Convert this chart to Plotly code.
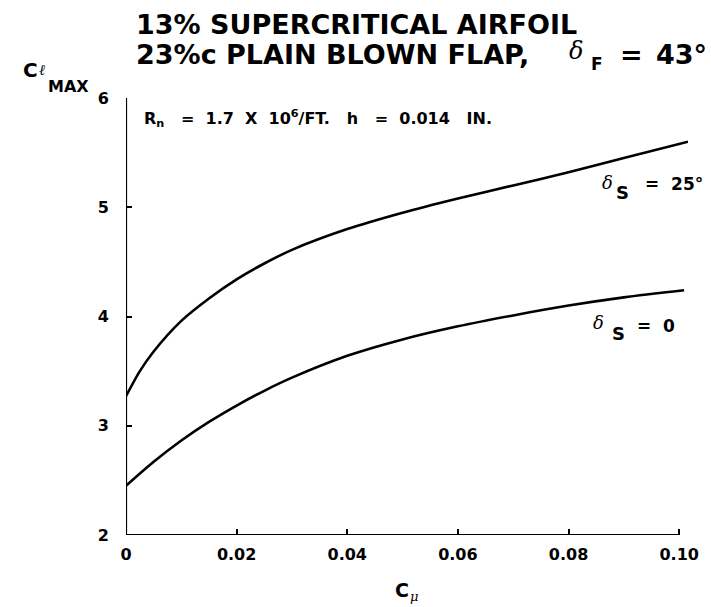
import plotly.graph_objects as go

# ---- data ----
cmu_25 = [0, 0.0025, 0.005, 0.010, 0.015, 0.020, 0.025, 0.030, 0.040, 0.050, 0.060, 0.070, 0.080, 0.090, 0.1016]
clmax_25 = [3.27, 3.50, 3.68, 3.96, 4.165, 4.34, 4.485, 4.61, 4.80, 4.95, 5.08, 5.20, 5.32, 5.45, 5.60]

cmu_0 = [0, 0.005, 0.010, 0.015, 0.020, 0.025, 0.030, 0.040, 0.050, 0.060, 0.070, 0.080, 0.090, 0.1009]
clmax_0 = [2.45, 2.67, 2.865, 3.035, 3.185, 3.32, 3.44, 3.64, 3.79, 3.91, 4.01, 4.10, 4.175, 4.24]

x_ticks = [0, 0.02, 0.04, 0.06, 0.08, 0.10]
x_tick_labels = ["0", "0.02", "0.04", "0.06", "0.08", "0.10"]
y_ticks = [2, 3, 4, 5, 6]
y_tick_labels = ["2", "3", "4", "5", "6"]

# ---- layout geometry (pixels) ----
W, H = 711, 607
L, R, T, B = 126, 690, 98, 535
FONT = "DejaVu Sans"
SERIF = "DejaVu Serif"
INK = "#000000"
S = "\u00a0"  # non-breaking space


def px(x):
    return (x - L) / (R - L)


def py(y):
    return (B - y) / (B - T)


fig = go.Figure()
for xs, ys in [(cmu_25, clmax_25), (cmu_0, clmax_0)]:
    fig.add_trace(go.Scatter(x=xs, y=ys, mode="lines",
                             line=dict(color=INK, width=2.6, shape="spline", smoothing=0.8),
                             showlegend=False, hoverinfo="skip"))

# axis lines (from tick extents)
fig.add_shape(type="line", xref="x", yref="y", x0=x_ticks[0], x1=x_ticks[-1], y0=y_ticks[0], y1=y_ticks[0],
              line=dict(color=INK, width=2.2))
fig.add_shape(type="line", xref="x", yref="y", x0=x_ticks[0], x1=x_ticks[0], y0=y_ticks[0], y1=y_ticks[-1],
              line=dict(color=INK, width=2.2))

annotations = []


def ann(text, x, y, size, xanchor="left", yanchor="middle", weight="bold", family=FONT, style="normal"):
    annotations.append(dict(text=text, x=px(x), y=py(y), xref="paper", yref="paper", showarrow=False,
                            xanchor=xanchor, yanchor=yanchor,
                            font=dict(family=family, size=size, color=INK, weight=weight, style=style)))


def delta(x, y, size):
    ann("δ", x, y, size, weight="normal", family=SERIF, style="italic")


# Title
ann("13% SUPERCRITICAL AIRFOIL", 134, 25, 27)
ann("23%c PLAIN BLOWN FLAP,", 134, 55, 27)
delta(569, 51, 24)
ann("F", 591, 64, 17)
ann("=", 620, 55, 27)
ann("43°", 711, 55, 27, xanchor="right")

# y-axis title
ann("C", 21, 70, 20)
ann("ℓ", 37, 70, 15, weight="normal", family=SERIF, style="italic")
ann("MAX", 46, 86, 16)

# x-axis title
ann("C", 394, 590, 19)
ann("μ", 409, 596, 13, weight="normal", family=SERIF, style="italic")

# in-plot note
note = ("R<sub>n</sub>" + S * 3 + "=" + S * 2 + "1.7" + S * 2 + "X" + S * 2 + "10<sup>6</sup>/FT."
        + S * 3 + "h" + S * 3 + "=" + S * 2 + "0.014" + S * 3 + "IN.")
ann(note, 142, 119, 16)

# curve labels
delta(602, 182, 18)
ann("S", 616, 192, 18)
ann("=" + S + S + "25°", 707, 184, 17, xanchor="right")
delta(593, 322, 18)
ann("S", 612, 333, 18)
ann("=" + S + S + "0", 679, 326, 17, xanchor="right")

fig.update_layout(
    width=W, height=H,
    margin=dict(l=L, r=W - R, t=T, b=H - B),
    paper_bgcolor="white", plot_bgcolor="white",
    annotations=annotations,
    xaxis=dict(range=[0, 0.1016], tickvals=x_ticks, ticktext=x_tick_labels, ticks="inside", ticklen=6,
               tickwidth=1.5, tickcolor=INK, showline=False, showgrid=False, zeroline=False,
               tickfont=dict(family=FONT, size=16, color=INK, weight="bold"), ticklabelstandoff=8),
    yaxis=dict(range=[2, 6], tickvals=y_ticks, ticktext=y_tick_labels, ticks="inside", ticklen=6,
               tickwidth=1.5, tickcolor=INK, showline=False, showgrid=False, zeroline=False,
               tickfont=dict(family=FONT, size=16, color=INK, weight="bold"), ticklabelstandoff=16),
)

fig.write_html("out.html")
